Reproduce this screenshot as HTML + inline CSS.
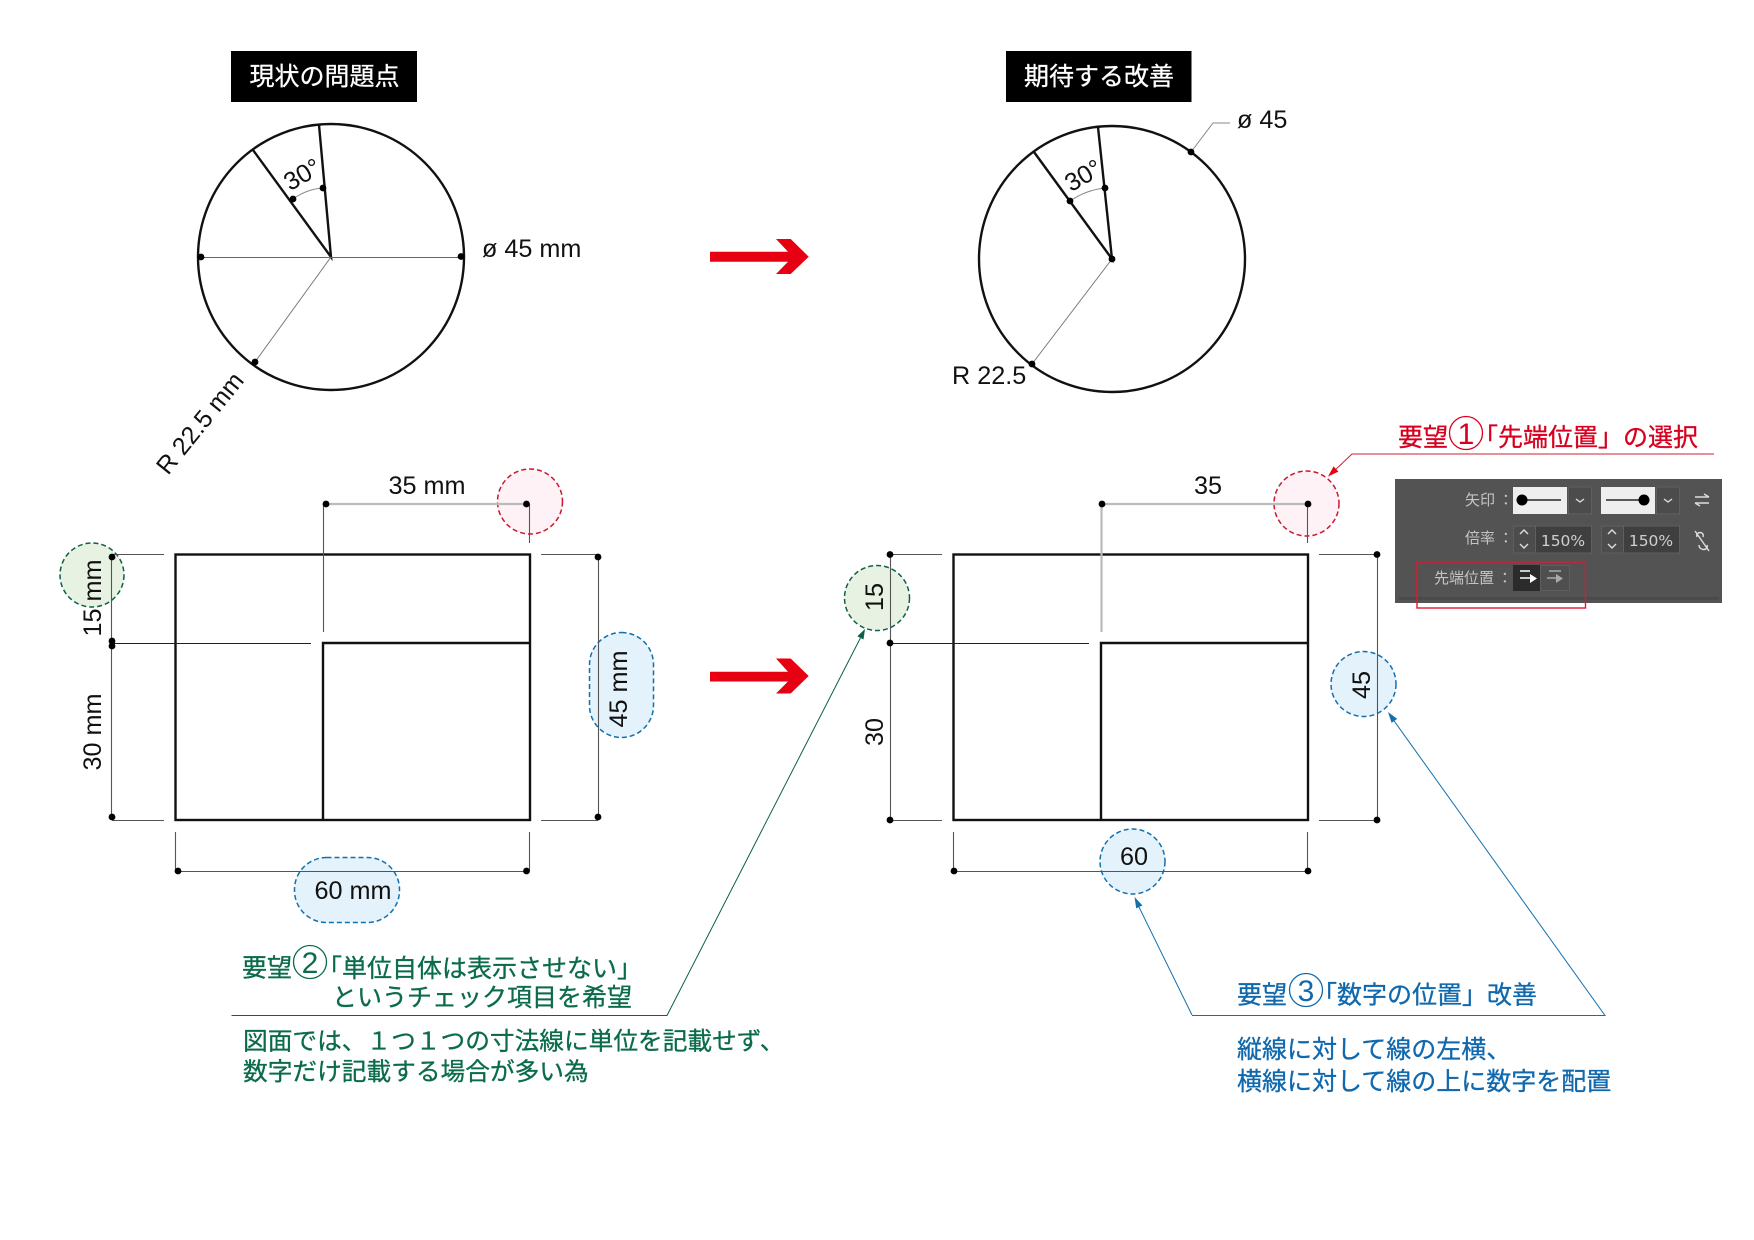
<!DOCTYPE html>
<html lang="ja">
<head>
<meta charset="utf-8">
<title>Diagram</title>
<style>
html,body{margin:0;padding:0;background:#fff;}
svg{display:block;}
text{font-family:"Liberation Sans","Noto Sans CJK JP",sans-serif;}
.jp{font-family:"Noto Sans CJK JP","Liberation Sans",sans-serif;}
.m{fill:#111;font-size:25.2px;}
.o{fill:none;stroke:#111;stroke-width:2.4;}
.d{stroke:#555;stroke-width:1.1;fill:none;}
.l{stroke:#bbb;stroke-width:2.2;fill:none;}
.t{fill:none;stroke:#888;stroke-width:1;}
.p{fill:#c4c4c4;font-size:15px;}
.pi{fill:none;stroke:#ddd;stroke-width:1.4;}
.b{stroke-width:.3px;}
</style>
</head>
<body>
<svg xmlns="http://www.w3.org/2000/svg" width="1754" height="1240" viewBox="0 0 1754 1240">
<rect width="1754" height="1240" fill="#fff"/>

<!-- titles -->
<rect x="231" y="51" width="186" height="51" fill="#000"/>
<text class="jp b" x="324.500" y="85" fill="#fff" stroke="#fff" font-size="25" text-anchor="middle">現状の問題点</text>
<rect x="1006" y="51" width="185.500" height="51" fill="#000"/>
<text class="jp b" x="1099" y="85" fill="#fff" stroke="#fff" font-size="25" text-anchor="middle">期待する改善</text>

<!-- left circle -->
<circle class="o" cx="331" cy="257" r="133"/>
<path d="M319 125L331 257L253 150" class="o"/>
<path d="M201 257.500H331L461 257.500" stroke="#666" stroke-width="1" fill="none"/>
<path d="M331 257L255 362" stroke="#777" stroke-width="1" fill="none"/>
<path d="M293 199Q307 189 323 188" class="t"/>
<g fill="#000">
<circle cx="323" cy="188" r="3.400"/><circle cx="293" cy="199" r="3.400"/>
<circle cx="201" cy="257" r="3.400"/><circle cx="461" cy="256.500" r="3.400"/><circle cx="255" cy="362" r="3.400"/>
</g>
<text class="m" x="302" y="183" text-anchor="middle" transform="rotate(-30 302 174)">30°</text>
<text class="m" x="482" y="257">ø 45 mm</text>
<text class="m" x="168" y="476" font-size="25" transform="rotate(-51 168 476)" style="font-size:25px">R 22.5 mm</text>

<!-- right circle -->
<circle class="o" cx="1112" cy="259" r="133"/>
<path d="M1098 127L1112 259L1034 152" class="o"/>
<path d="M1112 259L1032 364" stroke="#777" stroke-width="1" fill="none"/>
<path d="M1191 152L1213 123H1230" stroke="#888" stroke-width="1" fill="none"/>
<path d="M1070 201Q1086 190 1105 188" class="t"/>
<g fill="#000">
<circle cx="1105" cy="188" r="3.400"/><circle cx="1070" cy="201" r="3.400"/>
<circle cx="1112" cy="259" r="3.400"/><circle cx="1032" cy="364" r="3.400"/><circle cx="1191" cy="152" r="3.400"/>
</g>
<text class="m" x="1083" y="184" text-anchor="middle" transform="rotate(-30 1083 175)">30°</text>
<text class="m" x="1237" y="128">ø 45</text>
<text class="m" x="952" y="384">R 22.5</text>

<!-- red arrows -->
<path fill="#e60012" d="M710 251.700H788L776 239H790.700L808.700 256.700L790.700 274H776L788 261.700H710Z"/>
<path fill="#e60012" d="M710 671.700H788L776 658.500H790.700L808.700 676L790.700 693.500H776L788 681.500H710Z"/>

<!-- highlight bubbles -->
<g stroke-width="1.500" stroke-dasharray="5 3">
<ellipse cx="530" cy="501.500" rx="32.500" ry="32.500" fill="#fef2f7" stroke="#c8182f"/>
<ellipse cx="92" cy="575" rx="32" ry="32" fill="#e8f2e2" stroke="#0d6048"/>
<rect x="589.500" y="632.500" width="64" height="105" rx="32" fill="#e3f2fb" stroke="#1470ad"/>
<rect x="294.500" y="857.500" width="105" height="65" rx="32" fill="#e3f2fb" stroke="#1470ad"/>
<ellipse cx="1306.500" cy="503.500" rx="32.500" ry="32.500" fill="#fef2f7" stroke="#c8182f"/>
<ellipse cx="877" cy="598" rx="32.500" ry="32.500" fill="#e8f2e2" stroke="#0d6048"/>
<ellipse cx="1363.500" cy="684" rx="32.500" ry="32.500" fill="#e3f2fb" stroke="#1470ad"/>
<ellipse cx="1132.500" cy="861.500" rx="32.500" ry="32.500" fill="#e3f2fb" stroke="#1470ad"/>
</g>

<!-- left rect -->
<rect class="o" x="175.500" y="554.500" width="354.500" height="265.500"/>
<path class="o" d="M323 820V643H530"/>
<path class="d" d="M112 554.500H164M112 820.500H164M541 554.500H598M541 820.500H598"/>
<path d="M112 643.500H311" stroke="#222" stroke-width="1" fill="none"/>
<path class="d" d="M111.500 557V817M598.500 557V817"/>
<path class="l" d="M326 504H526"/>
<path class="d" d="M323.500 504V632M529.500 504V543"/>
<path class="d" d="M175.500 832V871M529.500 832V871M178 871.500H527"/>
<g fill="#000">
<circle cx="326" cy="504" r="3.400"/><circle cx="526.500" cy="504" r="3.400"/>
<circle cx="112" cy="557" r="3.400"/><circle cx="112" cy="641" r="3.400"/><circle cx="112" cy="646" r="3.400"/><circle cx="112" cy="817" r="3.400"/>
<circle cx="598" cy="557" r="3.400"/><circle cx="598" cy="817" r="3.400"/>
<circle cx="178" cy="871" r="3.400"/><circle cx="526.500" cy="871" r="3.400"/>
</g>
<text class="m" x="427" y="494" text-anchor="middle">35 mm</text>
<text class="m" x="353" y="899" text-anchor="middle">60 mm</text>
<text class="m" x="101" y="598" text-anchor="middle" transform="rotate(-90 101 598)">15 mm</text>
<text class="m" x="101" y="732" text-anchor="middle" transform="rotate(-90 101 732)">30 mm</text>
<text class="m" x="627" y="689" text-anchor="middle" transform="rotate(-90 627 689)">45 mm</text>

<!-- right rect -->
<rect class="o" x="953.500" y="554.500" width="354.500" height="265.500"/>
<path class="o" d="M1101 820V643H1308"/>
<path class="d" d="M890 554.500H942M890 820.500H942M1319 554.500H1377M1319 820.500H1377"/>
<path d="M890 643.500H1089" stroke="#222" stroke-width="1" fill="none"/>
<path class="d" d="M890.500 554.500V820M1377.500 554.500V820"/>
<path class="l" d="M1102 504H1308M1101.500 504V632"/>
<path class="d" d="M1307.500 504V543"/>
<path class="d" d="M953.500 832V871M1307.500 832V871M954 871.500H1308"/>
<g fill="#000">
<circle cx="1102" cy="504" r="3.400"/><circle cx="1308" cy="504" r="3.400"/>
<circle cx="890" cy="554.500" r="3.400"/><circle cx="890" cy="643" r="3.400"/><circle cx="890" cy="820" r="3.400"/>
<circle cx="1377" cy="554.500" r="3.400"/><circle cx="1377" cy="820" r="3.400"/>
<circle cx="954" cy="871" r="3.400"/><circle cx="1308" cy="871" r="3.400"/>
</g>
<text class="m" x="1208" y="494" text-anchor="middle">35</text>
<text class="m" x="1134" y="865" text-anchor="middle">60</text>
<text class="m" x="883" y="597" text-anchor="middle" transform="rotate(-90 883 597)">15</text>
<text class="m" x="883" y="732" text-anchor="middle" transform="rotate(-90 883 732)">30</text>
<text class="m" x="1370" y="685" text-anchor="middle" transform="rotate(-90 1370 685)">45</text>

<!-- leaders -->
<path d="M1714 454H1352L1332 473" stroke="#d2202f" stroke-width="1" fill="none"/>
<path d="M1328 476.500L1338.400 471.600L1333.600 466.400Z" fill="#e60012"/>
<path d="M231.500 1015.500H667L860.400 638" stroke="#0d6048" stroke-width="1" fill="none"/>
<path d="M865 629L863.500 639.500L857.300 636.300Z" fill="#0d6048"/>
<path d="M1192 1015.500H1605L1392 718M1192 1015L1137 903" stroke="#1470ad" stroke-width="1" fill="none"/>
<path d="M1388 712L1397.200 718.900L1391.600 722.900Z M1134.500 897L1142.400 905.400L1136.200 908.400Z" fill="#1470ad"/>

<!-- red label -->
<g fill="#d7001f" font-size="25px">
<text class="jp b" stroke="#d7001f" x="1398" y="446">要望</text>
<circle cx="1466" cy="433" r="16.500" fill="none" stroke="#d7001f" stroke-width="1.300"/>
<text x="1466" y="444" text-anchor="middle" font-size="30px">1</text>
<text class="jp b" stroke="#d7001f" x="1473" y="446">「先端位置」の選択</text>
</g>

<!-- panel -->
<rect x="1395" y="479" width="327" height="124" fill="#535353"/>
<rect x="1399" y="597" width="320" height="3" fill="#4a4a4a"/>
<g transform="translate(-7 -3)">
<text class="jp p" x="1472" y="508">矢印 ：</text>
<text class="jp p" x="1472" y="546">倍率 ：</text>
<text class="jp p" x="1441" y="586">先端位置 ：</text>
<rect x="1520" y="490" width="54" height="27" fill="#eee"/>
<path d="M1529 503H1568" stroke="#000" stroke-width="1.200"/>
<circle cx="1529" cy="503" r="5.500" fill="#000"/>
<rect x="1575.500" y="490" width="23" height="27" fill="#4c4c4c" stroke="#5f5f5f"/>
<path class="pi" d="M1583 502L1587 505L1591 502"/>
<rect x="1608" y="490" width="54" height="27" fill="#eee"/>
<path d="M1613 503H1651" stroke="#000" stroke-width="1.200"/>
<circle cx="1651" cy="503" r="5.500" fill="#000"/>
<rect x="1663.500" y="490" width="23" height="27" fill="#4c4c4c" stroke="#5f5f5f"/>
<path class="pi" d="M1671 502L1675 505L1679 502"/>
<path class="pi" d="M1702 500H1716M1711 497L1716 500M1716 506H1702M1707 509L1702 506" stroke-width="2"/>
<rect x="1520.500" y="529" width="22" height="27" fill="#4c4c4c" stroke="#5f5f5f"/>
<rect x="1542.500" y="529" width="56" height="27" fill="#3f3f3f" stroke="#5f5f5f"/>
<path class="pi" d="M1527 537L1531 533L1535 537M1527 547L1531 551L1535 547"/>
<text x="1570" y="549" text-anchor="middle" fill="#d0d0d0" font-size="15.500" style="font-family:'DejaVu Sans',sans-serif">150%</text>
<rect x="1608.500" y="529" width="22" height="27" fill="#4c4c4c" stroke="#5f5f5f"/>
<rect x="1630.500" y="529" width="56" height="27" fill="#3f3f3f" stroke="#5f5f5f"/>
<path class="pi" d="M1615 537L1619 533L1623 537M1615 547L1619 551L1623 547"/>
<text x="1658" y="549" text-anchor="middle" fill="#d0d0d0" font-size="15.500" style="font-family:'DejaVu Sans',sans-serif">150%</text>
<path class="pi" d="M1702 534L1716 554M1704 540C1702 534 1712 534 1710 540M1706 548C1706 554 1716 554 1714 548" stroke-width="2"/>
<rect x="1520" y="568" width="27" height="26" fill="#2b2b2b"/>
<rect x="1547.500" y="568.500" width="29" height="25" fill="#4f4f4f" stroke="#5f5f5f"/>
<path d="M1527 574H1537M1527 581H1538" stroke="#fff" stroke-width="1.500"/>
<path d="M1537 577V586L1544 581.500Z" fill="#fff"/>
<path d="M1556 574H1568M1554 581H1563" stroke="#aaa" stroke-width="1.500"/>
<path d="M1563 577V586L1570 581.500Z" fill="#aaa"/>
</g>
<rect x="1417" y="562" width="168.500" height="46" fill="none" stroke="#e3162d" stroke-width="1.400"/>

<!-- green text -->
<g fill="#0b6b4c" font-size="25px">
<text class="jp b" stroke="#0b6b4c" x="242" y="976.500">要望</text>
<circle cx="310" cy="962" r="16.500" fill="none" stroke="#0b6b4c" stroke-width="1.300"/>
<text x="310" y="973" text-anchor="middle" font-size="30px">2</text>
<text class="jp b" stroke="#0b6b4c" x="317" y="977">「単位自体は表示させない」</text>
<text class="jp b" stroke="#0b6b4c" x="332" y="1006">というチェック項目を希望</text>
<text class="jp b" stroke="#0b6b4c" x="243" y="1049.500" font-size="24.700">図面では、１つ１つの寸法線に単位を記載せず、</text>
<text class="jp b" stroke="#0b6b4c" x="243" y="1080" font-size="24.700">数字だけ記載する場合が多い為</text>
</g>

<!-- blue text -->
<g fill="#1068ad" font-size="25px">
<text class="jp b" stroke="#1068ad" x="1237" y="1003.500">要望</text>
<circle cx="1306" cy="990" r="16.500" fill="none" stroke="#1068ad" stroke-width="1.300"/>
<text x="1306" y="1001" text-anchor="middle" font-size="30px">3</text>
<text class="jp b" stroke="#1068ad" x="1312" y="1003.500">「数字の位置」改善</text>
<text class="jp b" stroke="#1068ad" x="1237" y="1058">縦線に対して線の左横、</text>
<text class="jp b" stroke="#1068ad" x="1237" y="1090">横線に対して線の上に数字を配置</text>
</g>
</svg>
</body>
</html>
